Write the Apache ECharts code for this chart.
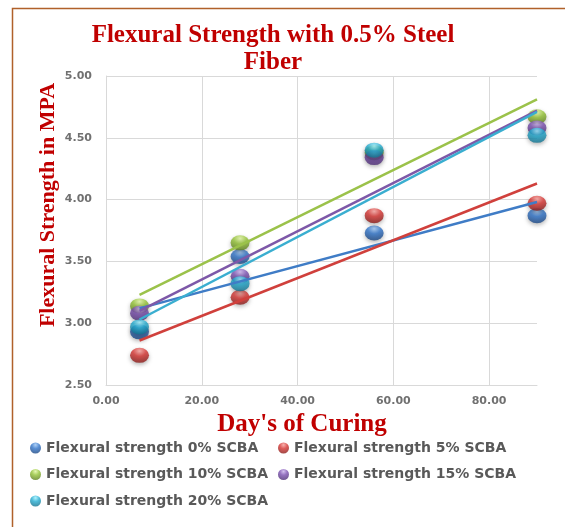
<!DOCTYPE html>
<html lang="en" style="height: 100%">
<head>
  <meta charset="utf-8">
</head>
<body style="height: 100%; margin: 0; background: #fff">
  <div id="container" style="width: 565px; height: 527px"></div>

  <script type="text/javascript" src="https://cdn.jsdelivr.net/npm/echarts@6/dist/echarts.min.js"></script>
  <script type="text/javascript">
    // days of curing
    var days = [7, 28, 56, 90];

    // measured flexural strength (MPa) per SCBA replacement
    var scba0 = [2.93, 3.54, 3.73, 3.87];
    var scba5 = [2.74, 3.21, 3.87, 3.97];
    var scba10 = [3.14, 3.65, 4.38, 4.67];
    var scba15 = [3.08, 3.38, 4.34, 4.58];
    var scba20 = [2.97, 3.32, 4.40, 4.52];

    // linear trend lines, read at first and last day
    var trendDays = [7, 90];
    var trend0 = [3.12, 3.98];
    var trend5 = [2.86, 4.13];
    var trend10 = [3.23, 4.81];
    var trend15 = [3.10, 4.72];
    var trend20 = [3.03, 4.71];

    var names = [
      'Flexural strength 0% SCBA',
      'Flexural strength 5% SCBA',
      'Flexural strength 10% SCBA',
      'Flexural strength 15% SCBA',
      'Flexural strength 20% SCBA'
    ];

    var yTicks = [2.5, 3.0, 3.5, 4.0, 4.5, 5.0];
    var xTicks = [0, 20, 40, 60, 80];

    // light / base / dark shades for the ball markers
    var shades = [
      ['#9cc6f5', '#2f73c9', '#173f78'],
      ['#f7a09c', '#d63431', '#7d1715'],
      ['#e0f5a0', '#93c234', '#56761a'],
      ['#c9b0ec', '#7a4fb0', '#45286b'],
      ['#9ef0ff', '#22abd0', '#116a85']
    ];
    var lineColors = ['#3f7cc6', '#d0403c', '#9bc24a', '#7d58a8', '#3aaed0'];

    var values = [scba0, scba5, scba10, scba15, scba20];
    var trends = [trend0, trend5, trend10, trend15, trend20];

    function ball(c) {
      return new echarts.graphic.RadialGradient(0.5, 0.22, 0.85, [
        { offset: 0, color: c[0] },
        { offset: 0.4, color: c[1] },
        { offset: 1, color: c[2] }
      ]);
    }

    var dom = document.getElementById('container');
    var myChart = echarts.init(dom, null, { renderer: 'canvas' });

    var series = [];
    values.forEach(function (v, i) {
      series.push({
        type: 'scatter',
        name: names[i],
        data: days.map(function (d, k) { return [d, v[k]]; }),
        symbol: 'circle',
        symbolSize: [19, 15],
        z: 2,
        itemStyle: {
          color: ball(shades[i]),
          shadowBlur: 4,
          shadowOffsetY: 2,
          shadowColor: 'rgba(0,0,0,0.35)'
        }
      });
    });
    // trend lines are drawn over the markers
    trends.forEach(function (t, i) {
      series.push({
        type: 'line',
        name: names[i] + ' trend',
        data: trendDays.map(function (d, k) { return [d, t[k]]; }),
        showSymbol: false,
        silent: true,
        z: 3,
        lineStyle: { color: lineColors[i], width: 2.5 }
      });
    });

    var legendText = {
      fontFamily: 'DejaVu Sans',
      fontWeight: 'bold',
      fontSize: 14,
      color: '#595959'
    };

    var option = {
      backgroundColor: '#fff',
      animation: false,
      grid: { left: 106, right: 28, top: 76, bottom: 142 },
      legend: [{
        orient: 'vertical',
        left: 25,
        top: 436,
        itemWidth: 11,
        itemHeight: 11,
        itemGap: 12.5,
        icon: 'circle',
        textStyle: legendText,
        data: [names[0], names[2], names[4]]
      }, {
        orient: 'vertical',
        left: 273,
        top: 436,
        itemWidth: 11,
        itemHeight: 11,
        itemGap: 12.5,
        icon: 'circle',
        textStyle: legendText,
        data: [names[1], names[3]]
      }],
      xAxis: {
        type: 'value',
        min: xTicks[0],
        max: 90,
        interval: 20,
        axisLine: { show: true, lineStyle: { color: '#d9d9d9' } },
        axisTick: { show: false },
        splitLine: { show: true, showMaxLine: false, lineStyle: { color: '#d9d9d9' } },
        axisLabel: {
          margin: 11,
          fontFamily: 'DejaVu Sans',
          fontWeight: 'bold',
          fontSize: 11,
          color: '#707070',
          showMaxLabel: false,
          formatter: function (v) { return v.toFixed(2); }
        }
      },
      yAxis: {
        type: 'value',
        min: yTicks[0],
        max: yTicks[yTicks.length - 1],
        interval: 0.5,
        axisLine: { show: true, lineStyle: { color: '#d9d9d9' } },
        axisTick: { show: false },
        splitLine: { show: true, lineStyle: { color: '#d9d9d9' } },
        axisLabel: {
          margin: 14,
          fontFamily: 'DejaVu Sans',
          fontWeight: 'bold',
          fontSize: 11,
          color: '#707070',
          formatter: function (v) { return v.toFixed(2); }
        }
      },
      graphic: [
        {
          type: 'rect',
          silent: true,
          shape: { x: 12.5, y: 8.5, width: 700, height: 700 },
          style: { fill: 'none', stroke: '#b0612a', lineWidth: 1.5 }
        },
        {
          type: 'text',
          x: 273,
          y: 49,
          style: {
            text: 'Flexural Strength with 0.5% Steel\nFiber',
            fontFamily: 'Liberation Serif',
            fontWeight: 'bold',
            fontSize: 25,
            lineHeight: 27,
            fill: '#c00000',
            align: 'center',
            verticalAlign: 'middle'
          }
        },
        {
          type: 'text',
          x: 48,
          y: 205,
          rotation: Math.PI / 2,
          style: {
            text: 'Flexural Strength in MPA',
            fontFamily: 'Liberation Serif',
            fontWeight: 'bold',
            fontSize: 22,
            fill: '#c00000',
            align: 'center',
            verticalAlign: 'middle'
          }
        },
        {
          type: 'text',
          x: 302,
          y: 425,
          style: {
            text: "Day's of Curing",
            fontFamily: 'Liberation Serif',
            fontWeight: 'bold',
            fontSize: 25,
            fill: '#c00000',
            align: 'center',
            verticalAlign: 'middle'
          }
        }
      ],
      series: series
    };

    myChart.setOption(option);
    window.addEventListener('resize', myChart.resize);
  </script>
</body>
</html>
